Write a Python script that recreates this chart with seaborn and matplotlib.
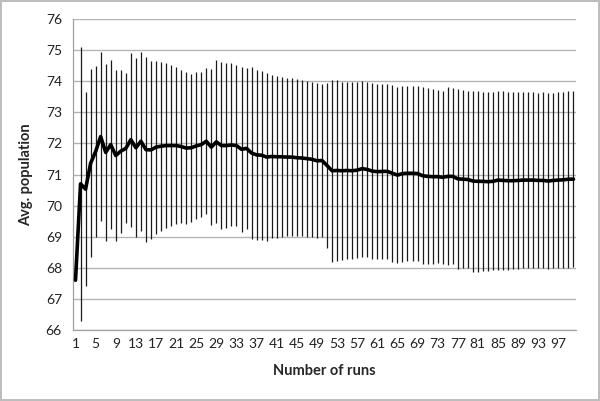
import numpy as np
import pandas as pd
import matplotlib
matplotlib.use("Agg")
import matplotlib.pyplot as plt
import seaborn as sns

runs = list(range(1, 101))
avg_population = [
    67.60, 70.70, 70.53, 71.36, 71.74, 72.22, 71.71, 71.96, 71.61, 71.75,
    71.84, 72.12, 71.86, 72.07, 71.80, 71.79, 71.88, 71.91, 71.93, 71.93,
    71.93, 71.90, 71.85, 71.86, 71.92, 71.96, 72.07, 71.88, 72.05, 71.93,
    71.93, 71.95, 71.93, 71.81, 71.84, 71.69, 71.63, 71.62, 71.56, 71.58,
    71.57, 71.57, 71.56, 71.56, 71.54, 71.53, 71.51, 71.49, 71.44, 71.45,
    71.29, 71.12, 71.13, 71.12, 71.13, 71.12, 71.14, 71.19, 71.16, 71.11,
    71.09, 71.10, 71.10, 71.04, 70.98, 71.03, 71.04, 71.04, 71.03, 70.96,
    70.94, 70.93, 70.93, 70.91, 70.94, 70.94, 70.86, 70.85, 70.84, 70.79,
    70.78, 70.78, 70.77, 70.78, 70.82, 70.81, 70.80, 70.80, 70.81, 70.82,
    70.82, 70.82, 70.81, 70.81, 70.79, 70.81, 70.82, 70.83, 70.85, 70.85,
]
error = [
    0.00, 4.40, 3.13, 3.02, 2.76, 2.73, 2.84, 2.72, 2.75, 2.62,
    2.41, 2.80, 2.88, 2.88, 2.98, 2.87, 2.78, 2.72, 2.64, 2.58,
    2.52, 2.47, 2.44, 2.38, 2.36, 2.33, 2.35, 2.50, 2.62, 2.68,
    2.64, 2.62, 2.58, 2.66, 2.60, 2.76, 2.74, 2.72, 2.69, 2.63,
    2.60, 2.58, 2.55, 2.53, 2.52, 2.51, 2.51, 2.49, 2.49, 2.47,
    2.66, 2.92, 2.90, 2.87, 2.86, 2.85, 2.84, 2.83, 2.82, 2.83,
    2.82, 2.81, 2.81, 2.84, 2.84, 2.83, 2.82, 2.81, 2.80, 2.84,
    2.83, 2.82, 2.79, 2.79, 2.86, 2.83, 2.89, 2.87, 2.86, 2.91,
    2.90, 2.88, 2.87, 2.86, 2.88, 2.87, 2.86, 2.84, 2.84, 2.84,
    2.83, 2.83, 2.82, 2.83, 2.82, 2.82, 2.82, 2.83, 2.85, 2.84,
]
y_ticks = list(range(66, 77))
x_tick_labels = list(range(1, 101, 4))

df = pd.DataFrame({"run": runs, "avg": avg_population, "err": error})

sns.set_theme(style="white")
plt.rcParams["font.family"] = ["Lato", "DejaVu Sans"]

fig = plt.figure(figsize=(6.0, 4.01), dpi=100, facecolor="white",
                 edgecolor="#bdbdbd", linewidth=1.5)
ax = fig.add_axes([73/600, 1 - 330/401, (576-73)/600, (330-19)/401])

# error bars
ax.errorbar(df["run"], df["avg"], yerr=df["err"], fmt="none",
            ecolor="#1a1a1a", elinewidth=0.9, capsize=0, zorder=2)
# mean line
sns.lineplot(data=df, x="run", y="avg", ax=ax, color="black",
             linewidth=2.6, zorder=3)

ax.set_xlim(0.5, 100.5)
ax.set_ylim(66, 76)
ax.set_yticks(y_ticks)
ax.set_yticklabels([str(v) for v in y_ticks], fontsize=10, color="#222222")
ax.set_xticks(x_tick_labels)
ax.set_xticklabels([str(v) for v in x_tick_labels], fontsize=10, color="#222222")
ax.set_xticks(np.arange(0.5, 101, 1), minor=True)
ax.tick_params(axis="x", which="major", length=0, pad=6)
ax.tick_params(axis="x", which="minor", length=4, width=0.8, color="#a0a0a0", direction="out")
ax.tick_params(axis="y", which="major", length=4, width=0.8, color="#a0a0a0", direction="out", pad=4)

ax.grid(axis="y", color="#b5b5b5", linewidth=1.0, zorder=0)
ax.grid(axis="x", visible=False)
ax.set_axisbelow(True)
for s in ["top", "right"]:
    ax.spines[s].set_visible(False)
for s in ["left", "bottom"]:
    ax.spines[s].set_color("#a0a0a0")
    ax.spines[s].set_linewidth(0.9)

ax.set_xlabel("Number of runs", fontsize=10.5, fontweight="bold", labelpad=10)
ax.set_ylabel("Avg. population", fontsize=10.5, fontweight="bold", labelpad=9)

fig.savefig("out.png", dpi=100, facecolor="white", edgecolor=fig.get_edgecolor())
